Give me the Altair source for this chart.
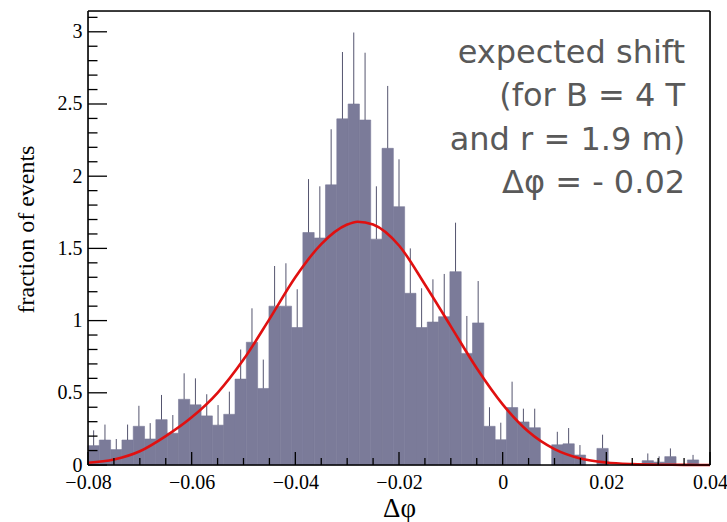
import altair as alt
import pandas as pd
import numpy as np

# ---------------- data ----------------
x_min, x_max = -0.08, 0.04
n_bins = 55
heights = [0.134, 0.173, 0.107, 0.173, 0.268, 0.180, 0.314, 0.220, 0.455, 0.417,
           0.340, 0.276, 0.351, 0.595, 0.850, 0.530, 1.100, 1.100, 0.952, 1.610,
           1.572, 1.940, 2.397, 2.500, 2.389, 1.564, 2.193, 1.789, 1.189, 0.952,
           0.990, 1.027, 1.339, 0.773, 0.984, 0.268, 0.175, 0.398, 0.298, 0.258,
           0.0, 0.140, 0.147, 0.069, 0.0, 0.115, 0.0, 0.0, 0.0, 0.030,
           0.020, 0.058, 0.0, 0.035, 0.0]
err_top = [0.240, 0.280, 0.180, 0.280, 0.410, 0.290, 0.485, 0.346, 0.635, 0.600,
           0.490, 0.415, 0.508, 0.800, 1.085, 0.730, 1.378, 1.397, 1.217, 1.980,
           1.930, 2.325, 2.860, 2.995, 2.855, 1.930, 2.625, 2.117, 1.500, 1.224,
           1.286, 1.323, 1.678, 1.032, 1.274, 0.400, 0.293, 0.577, 0.390, 0.390,
           0.0, 0.230, 0.256, 0.138, 0.0, 0.210, 0.0, 0.0, 0.0, 0.080,
           0.060, 0.115, 0.0, 0.070, 0.0]

fit_x = [-0.08, -0.075, -0.07, -0.065, -0.06, -0.055, -0.05, -0.045, -0.04, -0.035,
         -0.03, -0.028, -0.025, -0.02, -0.015, -0.01, -0.005, 0.0, 0.005, 0.01,
         0.015, 0.02, 0.025, 0.03, 0.035, 0.04]
fit_y = [0.016, 0.038, 0.095, 0.20, 0.33, 0.50, 0.73, 1.01, 1.30, 1.53,
         1.665, 1.685, 1.665, 1.52, 1.25, 0.96, 0.67, 0.42, 0.23, 0.11,
         0.045, 0.017, 0.006, 0.002, 0.001, 0.0]

x_major = [-0.08, -0.06, -0.04, -0.02, 0.0, 0.02, 0.04]
y_major = [0, 0.5, 1, 1.5, 2, 2.5, 3]

note_lines = ["expected shift", "(for B = 4 T", "and r = 1.9 m)", "\u0394\u03c6 = - 0.02"]
note_x, note_y = 0.0352, 2.784

# ---------------- tables ----------------
bw = (x_max - x_min) / n_bins
hist = pd.DataFrame({
    "lo": [x_min + i * bw for i in range(n_bins)],
    "hi": [x_min + (i + 1) * bw for i in range(n_bins)],
    "c": [x_min + (i + 0.5) * bw for i in range(n_bins)],
    "h": heights,
    "e": err_top,
})
bars = hist[hist["h"] > 0]
errs = hist[hist["e"] > hist["h"]]
fit = pd.DataFrame({"x": fit_x, "y": fit_y})

x_ticks = pd.DataFrame({"v": np.round(np.arange(-0.08, 0.0401, 0.005), 4)})
x_ticks["major"] = [abs(round(v / 0.02) * 0.02 - v) < 1e-6 for v in x_ticks["v"]]
y_ticks = pd.DataFrame({"v": np.round(np.arange(0, 3.11, 0.1), 2)})
y_ticks["major"] = [abs(round(v / 0.5) * 0.5 - v) < 1e-6 for v in y_ticks["v"]]

W, H = 622, 454
xs = alt.Scale(domain=[x_min, x_max], nice=False, zero=False)
ys = alt.Scale(domain=[0, 3.144], nice=False)

serif = "Liberation Serif"
BAR = "#7b7b99"

x_axis = alt.Axis(values=x_major, ticks=False, domain=False, grid=False, labelFlush=False,
                  labelFont=serif, labelFontSize=20, labelColor="black", labelPadding=7,
                  labelExpr="datum.value == 0 ? '0' : format(datum.value, '.2f')",
                  title="\u0394\u03c6", titleFont=serif, titleFontSize=27,
                  titleFontWeight="normal", titleColor="black", titlePadding=3)
y_axis = alt.Axis(values=y_major, ticks=False, domain=False, grid=False, labelFlush=False,
                  labelFont=serif, labelFontSize=20, labelColor="black", labelPadding=6,
                  labelExpr="format(datum.value, '~g')",
                  title="fraction of events", titleFont=serif, titleFontSize=24,
                  titleFontWeight="normal", titleColor="black", titlePadding=19,
                  titleY=218)

bar_layer = alt.Chart(bars).mark_rect(color=BAR, stroke=BAR, strokeWidth=0.6).encode(
    x=alt.X("lo:Q", scale=xs, axis=x_axis),
    x2="hi:Q",
    y=alt.Y("h:Q", scale=ys, axis=y_axis),
    y2=alt.datum(0),
)

err_layer = alt.Chart(errs).mark_rule(color="#55556f", strokeWidth=1).encode(
    x=alt.X("c:Q", scale=xs), y=alt.Y("h:Q", scale=ys), y2="e:Q")

fit_layer = alt.Chart(fit).mark_line(color="#e01010", strokeWidth=2.6,
                                     interpolate="monotone").encode(
    x=alt.X("x:Q", scale=xs), y=alt.Y("y:Q", scale=ys))

tick_style = dict(color="black", strokeWidth=1.3)
xt_major = alt.Chart(x_ticks[x_ticks["major"]]).mark_rule(**tick_style).encode(
    x=alt.X("v:Q", scale=xs), y=alt.value(H), y2=alt.value(H - 13))
xt_minor = alt.Chart(x_ticks[~x_ticks["major"]]).mark_rule(**tick_style).encode(
    x=alt.X("v:Q", scale=xs), y=alt.value(H), y2=alt.value(H - 7))
yt_major = alt.Chart(y_ticks[y_ticks["major"]]).mark_rule(**tick_style).encode(
    y=alt.Y("v:Q", scale=ys), x=alt.value(0), x2=alt.value(19))
yt_minor = alt.Chart(y_ticks[~y_ticks["major"]]).mark_rule(**tick_style).encode(
    y=alt.Y("v:Q", scale=ys), x=alt.value(0), x2=alt.value(9.5))

# plot frame drawn on top of the bars
frame_style = dict(color="black", strokeWidth=1.6)
frame = alt.layer(
    alt.Chart().mark_rule(**frame_style).encode(x=alt.value(0), x2=alt.value(W), y=alt.value(0)),
    alt.Chart().mark_rule(**frame_style).encode(x=alt.value(0), x2=alt.value(W), y=alt.value(H)),
    alt.Chart().mark_rule(**frame_style).encode(x=alt.value(0), y=alt.value(0), y2=alt.value(H)),
    alt.Chart().mark_rule(**frame_style).encode(x=alt.value(W), y=alt.value(0), y2=alt.value(H)),
)

note = alt.Chart(pd.DataFrame({"x": [note_x], "y": [note_y], "t": [note_lines]})).mark_text(
    align="right", baseline="alphabetic", font="DejaVu Sans", fontSize=32,
    color="#595959", lineHeight=43.3).encode(
    x=alt.X("x:Q", scale=xs), y=alt.Y("y:Q", scale=ys), text="t")

chart = alt.layer(bar_layer, err_layer, fit_layer, xt_major, xt_minor, yt_major, yt_minor,
                  frame, note).properties(
    width=W, height=H,
    autosize=alt.AutoSizeParams(type="none"),
    padding={"left": 88, "top": 11, "right": 17, "bottom": 57},
).configure_view(stroke=None).configure(background="white")

chart.save("out.html", embed_options={"renderer": "svg", "actions": False})
